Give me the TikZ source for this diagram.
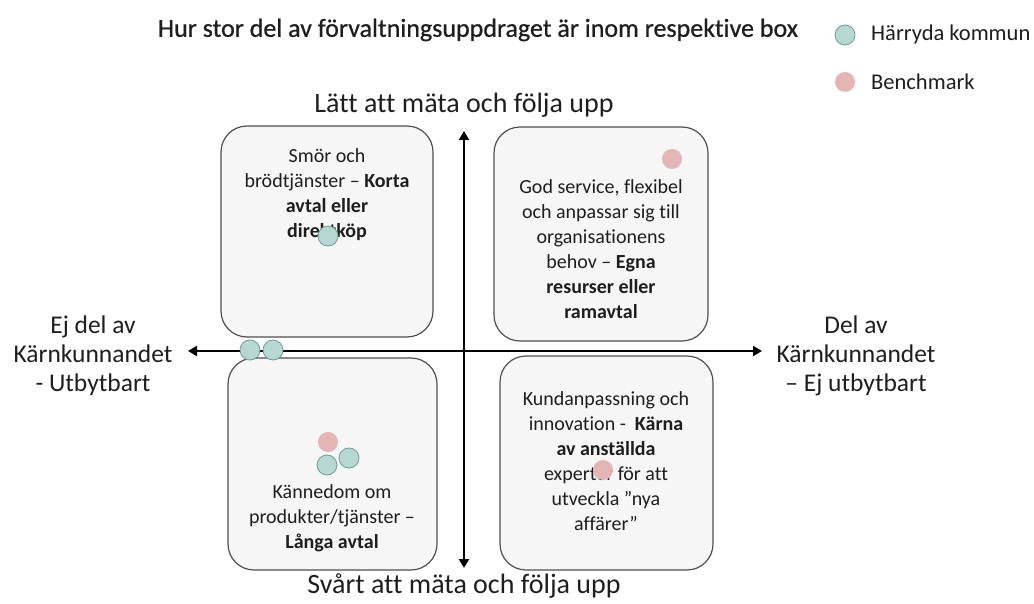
\documentclass[tikz,border=0pt]{standalone}
\usepackage{fontspec}
\setmainfont{Carlito}[Ligatures={TeX,NoCommon}]
\newfontfamily\titlefont{Carlito}[Ligatures={TeX,NoCommon},FakeBold=0.7]
\usetikzlibrary{arrows.meta}
\definecolor{tealfill}{HTML}{B7D7D3}
\definecolor{tealedge}{HTML}{6E9E98}
\definecolor{pinkfill}{HTML}{E4B5B5}
\definecolor{boxfill}{HTML}{F6F6F6}
\definecolor{boxedge}{HTML}{505050}
\definecolor{txt}{HTML}{1E1E1E}
\begin{document}
\begin{tikzpicture}[x=1pt,y=-1pt,
  quad/.style={draw=boxedge, line width=1.2pt, fill=boxfill, rounded corners=26pt, inner sep=0pt},
  boxtext/.style={align=center, text=txt, font=\fontsize{20}{25}\selectfont, inner sep=0pt},
  axislabel/.style={align=center, text=txt, font=\fontsize{28}{29}\selectfont, inner sep=0pt},
  sidelabel/.style={align=center, text=txt, font=\fontsize{25.5}{29}\selectfont, inner sep=0pt},
  axis/.style={line width=2.6pt, {Triangle[length=9pt,width=10pt]}-{Triangle[length=9pt,width=10pt]}},
  hdot/.style={circle, draw=tealedge, line width=0.8pt, fill=tealfill, minimum size=20pt, inner sep=0pt},
  bdot/.style={circle, fill=pinkfill, minimum size=20pt, inner sep=0pt},
  legend/.style={anchor=west, text=txt, font=\fontsize{22.5}{26}\selectfont, inner sep=0pt}]
\useasboundingbox (0,0) rectangle (1034,604);

% title and legend
\node[text=txt, font=\titlefont\fontsize{26}{30}\selectfont, inner sep=0pt] (title) at (478,30) {Hur stor del av förvaltningsuppdraget är inom respektive box};
\node[hdot] (lh) at (845,35) {};
\node[legend] (lht) at (871,35) {Härryda kommun};
\node[bdot] (lb) at (845,82) {};
\node[legend] (lbt) at (871,82) {Benchmark};

% boxes
\node[quad, minimum width=212pt, minimum height=211pt] (tl) at (327,231.5) {};
\node[quad, minimum width=214pt, minimum height=214pt] (tr) at (601,234) {};
\node[quad, minimum width=209pt, minimum height=212pt] (bl) at (332.5,464) {};
\node[quad, minimum width=213pt, minimum height=214pt] (br) at (606.5,463) {};

\node[boxtext] (tlt) at (327,195) {Smör och\\brödtjänster -- \textbf{Korta}\\\textbf{avtal eller}\\\textbf{direktköp}};
\node[boxtext] (trt) at (601,249) {God service, flexibel\\och anpassar sig till\\organisationens\\behov -- \textbf{Egna}\\\textbf{resurser eller}\\\textbf{ramavtal}};
\node[boxtext] (blt) at (332,518) {Kännedom om\\produkter/tjänster --\\\textbf{Långa avtal}};
\node[boxtext] (brt) at (606,461) {Kundanpassning och\\innovation -\ \ \textbf{Kärna}\\\textbf{av anställda}\\experter för att\\utveckla ”nya\\affärer”};

% axes
\coordinate (L) at (188,351);
\coordinate (R) at (762,351);
\coordinate (T) at (464,131);
\coordinate (B) at (464,568);
\draw[axis] (L) -- (R);
\draw[axis] (T) -- (B);

\node[axislabel] (top) at (464,105) {Lätt att mäta och följa upp};
\node[axislabel] (bot) at (464,586) {Svårt att mäta och följa upp};
\node[sidelabel] (left) at (93,356) {Ej del av\\Kärnkunnandet\\- Utbytbart};
\node[sidelabel] (right) at (856,356) {Del av\\Kärnkunnandet\\– Ej utbytbart};

% dots
\node[hdot] (h1) at (328,236) {};
\node[hdot] (h2) at (250,350) {};
\node[hdot] (h3) at (273,350) {};
\node[bdot] (b1) at (672,159) {};
\node[bdot] (b2) at (328,442) {};
\node[hdot] (h4) at (327,465) {};
\node[hdot] (h5) at (349,458) {};
\node[bdot] (b3) at (603,470) {};
\end{tikzpicture}
\end{document}
